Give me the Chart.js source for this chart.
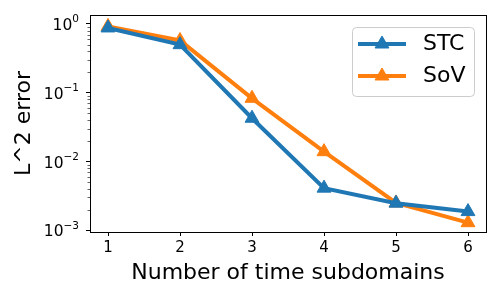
<!DOCTYPE html>
<html><head><meta charset="utf-8">
<script src="https://cdn.jsdelivr.net/npm/chart.js@4"></script>
<style>html,body{margin:0;padding:0;background:#fff}</style>
</head><body>
<canvas id="c" width="500" height="300"></canvas>
<script>
const subdomains = [1, 2, 3, 4, 5, 6];
const stcError = [0.875, 0.50, 0.0426, 0.0041, 0.00248, 0.00187];
const sovError = [0.92, 0.575, 0.083, 0.0139, 0.0025, 0.00129];
const seriesNames = ['STC', 'SoV'];
const seriesColors = ['#1f77b4', '#ff7f0e'];
const yMajorTicks = [1e-3, 1e-2, 1e-1, 1];
const yTickBase = '10';
const yTickExponents = ['\u22123', '\u22122', '\u22121', '0'];
const xTitle = 'Number of time subdomains';
const yTitle = 'L^2 error';

const FONT = 'DejaVu Sans';

const pts = arr => subdomains.map((x, i) => ({x: x, y: arr[i]}));

const boxPlugin = {
  id: 'box',
  afterDraw(chart) {
    const ctx = chart.ctx, a = chart.chartArea, ys = chart.scales.y;
    ctx.save();
    ctx.strokeStyle = '#000';
    ctx.lineWidth = 1;
    ctx.strokeRect(Math.round(a.left) + 0.5, Math.round(a.top) + 0.5, Math.round(a.right - a.left), Math.round(a.bottom - a.top));
    // minor ticks
    ctx.lineWidth = 0.6;
    ctx.beginPath();
    for (let d = -4; d <= 1; d++) {
      for (let m = 2; m <= 9; m++) {
        const v = m * Math.pow(10, d);
        if (v < ys.min || v > ys.max) continue;
        const py = Math.round(ys.getPixelForValue(v)) + 0.5;
        ctx.moveTo(a.left, py);
        ctx.lineTo(a.left - 2.5, py);
      }
    }
    ctx.stroke();
    // y tick labels with superscript exponents
    ctx.fillStyle = '#000';
    ctx.textBaseline = 'alphabetic';
    ctx.textAlign = 'left';
    const rightX = a.left - 11;
    yMajorTicks.forEach((v, i) => {
      const py = ys.getPixelForValue(v);
      ctx.font = '10.5px "' + FONT + '"';
      const ew = ctx.measureText(yTickExponents[i]).width;
      ctx.fillText(yTickExponents[i], rightX - ew, py - 1.5);
      ctx.font = '15.5px "' + FONT + '"';
      const bw = ctx.measureText(yTickBase).width;
      ctx.fillText(yTickBase, rightX - ew - bw, py + 6);
    });
    // legend
    const bw = 122, bh = 69;
    const bx = a.right - 12 - bw, by = a.top + 12;
    ctx.beginPath();
    ctx.roundRect(bx + 0.5, by + 0.5, bw, bh, 4);
    ctx.fillStyle = 'rgba(255,255,255,0.8)';
    ctx.fill();
    ctx.strokeStyle = '#cccccc';
    ctx.lineWidth = 1;
    ctx.stroke();
    seriesNames.forEach((name, i) => {
      const cy = by + 17 + i * 32;
      ctx.strokeStyle = seriesColors[i];
      ctx.lineWidth = 4;
      ctx.beginPath();
      ctx.moveTo(bx + 6, cy);
      ctx.lineTo(bx + 54, cy);
      ctx.stroke();
      const r = 8, mx = bx + 30;
      ctx.fillStyle = seriesColors[i];
      ctx.beginPath();
      ctx.moveTo(mx, cy - r);
      ctx.lineTo(mx + r * 0.866, cy + r * 0.5);
      ctx.lineTo(mx - r * 0.866, cy + r * 0.5);
      ctx.closePath();
      ctx.fill();
      ctx.lineWidth = 1;
      ctx.stroke();
      ctx.fillStyle = '#000';
      ctx.font = '22px "' + FONT + '"';
      ctx.textBaseline = 'middle';
      ctx.textAlign = 'left';
      ctx.fillText(name, bx + 71, cy);
    });
    ctx.restore();
  }
};

new Chart(document.getElementById('c'), {
  type: 'line',
  data: {
    datasets: [stcError, sovError].map((arr, i) => ({
      label: seriesNames[i],
      data: pts(arr),
      borderColor: seriesColors[i],
      backgroundColor: seriesColors[i],
      borderWidth: 4,
      pointStyle: 'triangle',
      pointRadius: 8,
      pointBorderWidth: 1,
      pointBorderColor: seriesColors[i],
      pointBackgroundColor: seriesColors[i],
      tension: 0,
      fill: false
    }))
  },
  options: {
    responsive: false,
    animation: false,
    events: [],
    layout: {padding: {top: 15, right: 14, left: 0, bottom: 0}},
    plugins: {legend: {display: false}, tooltip: {enabled: false}},
    scales: {
      x: {
        type: 'linear',
        min: 0.75, max: 6.25,
        afterBuildTicks: s => { s.ticks = subdomains.map(v => ({value: v})); },
        afterFit: s => { s.height = 68; },
        grid: {drawOnChartArea: false, drawTicks: true, tickLength: 4, tickColor: '#000', color: '#000'},
        border: {display: true, color: '#000', width: 1},
        ticks: {color: '#000', font: {family: FONT, size: 15}, padding: 3, maxRotation: 0, autoSkip: false,
                callback: v => String(v)},
        title: {display: true, text: xTitle, color: '#000', font: {family: FONT, size: 22}, padding: {top: 0, bottom: 14}}
      },
      y: {
        type: 'logarithmic',
        min: 0.000944, max: 1.35,
        afterBuildTicks: s => { s.ticks = yMajorTicks.map(v => ({value: v, major: true})); },
        afterFit: s => { s.width = 90; },
        grid: {drawOnChartArea: false, drawTicks: true, tickLength: 4, tickColor: '#000', color: '#000'},
        border: {display: true, color: '#000', width: 1},
        ticks: {color: '#000', font: {family: FONT, size: 15}, padding: 4, autoSkip: false,
                callback: () => ''},
        title: {display: true, text: yTitle, color: '#000', font: {family: FONT, size: 22}, padding: {top: 11, bottom: 0}}
      }
    }
  },
  plugins: [boxPlugin]
});
</script>
</body></html>
